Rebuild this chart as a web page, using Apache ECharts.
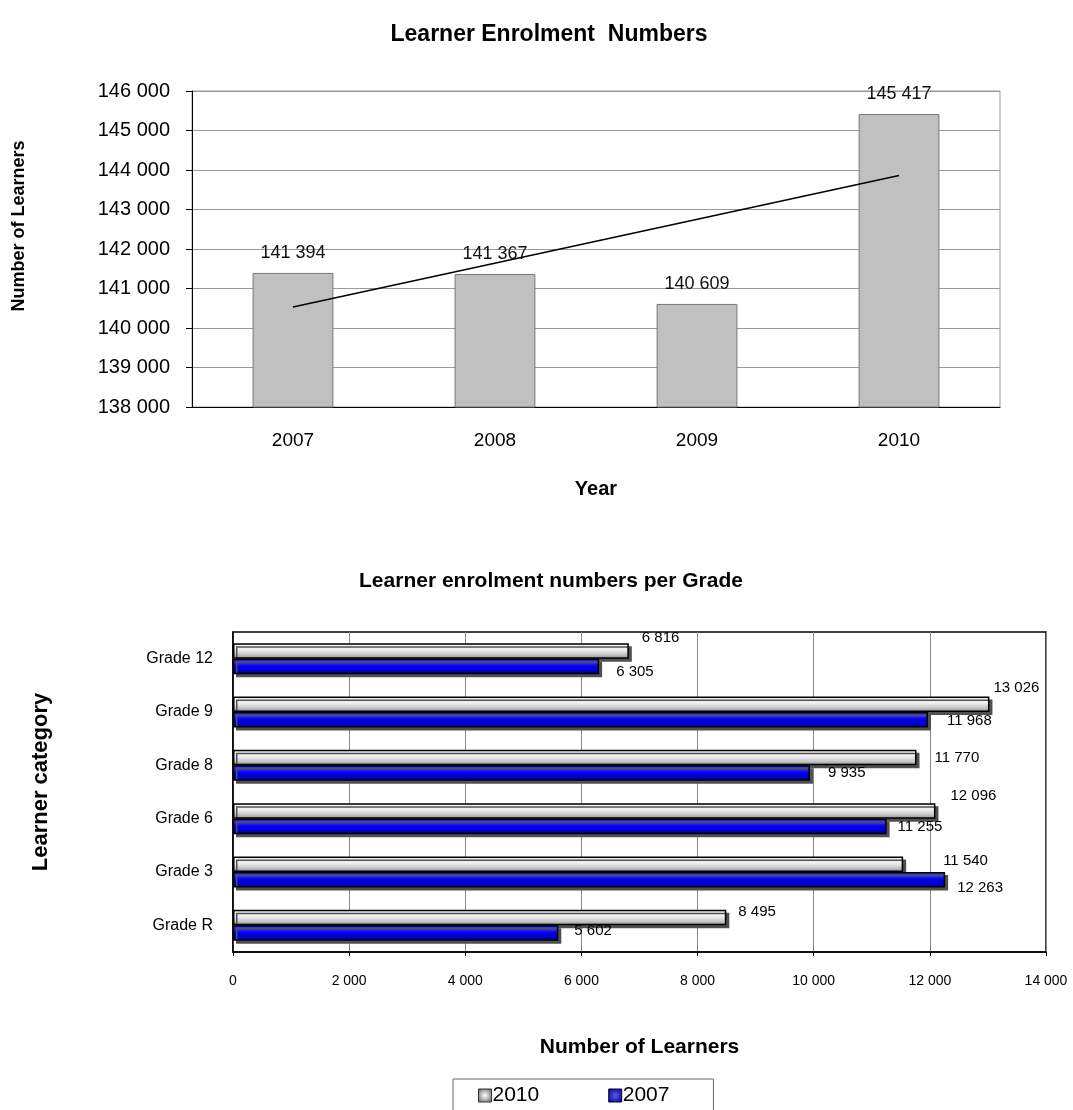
<!DOCTYPE html>
<html>
<head>
<meta charset="utf-8">
<script src="https://cdn.jsdelivr.net/npm/echarts@6/dist/echarts.min.js"></script>
<style>html,body{margin:0;padding:0;background:#fff;}#c{width:1073px;height:1110px;}</style>
</head>
<body>
<div id="c"></div>
<script>
// ---- Top chart data ----
const years = ['2007', '2008', '2009', '2010'];
const totalLearners = [141394, 141367, 140609, 145417];
const trendEnds = [140530, null, null, 143863]; // linear trendline endpoints
const topTicks = [138000, 146000, 1000]; // min, max, interval

// ---- Bottom chart data ----
const grades = ['Grade R', 'Grade 3', 'Grade 6', 'Grade 8', 'Grade 9', 'Grade 12'];
const grade2010 = [8495, 11540, 12096, 11770, 13026, 6816];
const grade2007 = [5602, 12263, 11255, 9935, 11968, 6305];
const bottomTicks = [0, 14000, 2000];

// label nudges (style only), per grade, matching the hand-placed labels of the original
const nudge2010 = [[12,-6],[40,-3],[15,-15],[18,0],[4,-16],[13,-13]];
const nudge2007 = [[16,-2],[12,8],[11,0],[18,0],[19,1],[17,5]];

const fmt = v => String(v).replace(/\B(?=(\d{3})+(?!\d))/g, ' ');
const FONT = 'Liberation Sans, Arial, sans-serif';

const grayGrad = {type:'linear', x:0, y:0, x2:0, y2:1, colorStops:[
  {offset:0, color:'#b8b8b8'}, {offset:0.15, color:'#f6f6f6'}, {offset:0.45, color:'#ececec'},
  {offset:0.75, color:'#c4c4c4'}, {offset:1, color:'#8a8a8a'}]};
const blueGrad = {type:'linear', x:0, y:0, x2:0, y2:1, colorStops:[
  {offset:0, color:'#1a1aa0'}, {offset:0.15, color:'#3a3aff'}, {offset:0.5, color:'#0000f0'},
  {offset:0.8, color:'#0000c8'}, {offset:1, color:'#000070'}]};

const labelBase = {show:true, position:'right', distance:0, formatter: p => fmt(p.value),
                   fontFamily:FONT, fontSize:15, color:'#000'};

const chart = echarts.init(document.getElementById('c'), null, {renderer:'canvas'});
chart.setOption({
  backgroundColor: '#fff',
  animation: false,
  title: [
    {text:'Learner Enrolment  Numbers', left: 544, top: 18, textAlign:'center',
     textStyle:{fontFamily:FONT, fontSize:23, fontWeight:'bold', color:'#000'}},
    {text:'Learner enrolment numbers per Grade', left: 546, top: 566, textAlign:'center',
     textStyle:{fontFamily:FONT, fontSize:21, fontWeight:'bold', color:'#000'}}
  ],
  graphic: [
    {type:'text', x:19, y:226, rotation:Math.PI/2,
     style:{text:'Number of Learners', fontFamily:FONT, fontSize:18, fontWeight:'bold', fill:'#000',
            align:'center', verticalAlign:'middle'}},
    {type:'text', x:41, y:782, rotation:Math.PI/2,
     style:{text:'Learner category', fontFamily:FONT, fontSize:22, fontWeight:'bold', fill:'#000',
            align:'center', verticalAlign:'middle'}}
  ],
  legend: {
    data: [
      {name:'2010', itemStyle:{color:{type:'radial', x:0.5, y:0.5, r:0.7, colorStops:[{offset:0,color:'#ffffff'},{offset:1,color:'#555'}]}, borderColor:'#333', borderWidth:1}},
      {name:'2007', itemStyle:{color:{type:'radial', x:0.5, y:0.5, r:0.7, colorStops:[{offset:0,color:'#5555ff'},{offset:1,color:'#000066'}]}, borderColor:'#000044', borderWidth:1}}
    ],
    left: 453, top: 1079,
    orient: 'horizontal',
    icon: 'rect', itemWidth: 13, itemHeight: 13, itemGap: 69,
    padding: [6, 44, 20, 25],
    borderColor: '#666', borderWidth: 1,
    textStyle: {fontFamily:FONT, fontSize:21, color:'#000', padding:[0,0,0,-4]}
  },
  grid: [
    {left:192, top:91, width:808, height:316, show:true, borderColor:'#999', borderWidth:1, containLabel:false},
    {left:233, top:632, width:813, height:320, show:true, borderColor:'#000', borderWidth:1.5, containLabel:false}
  ],
  xAxis: [
    {gridIndex:0, type:'category', data: years, boundaryGap:true,
     axisLine:{lineStyle:{color:'#000', width:1}}, axisTick:{show:false},
     axisLabel:{fontFamily:FONT, fontSize:19, color:'#000', margin:24},
     name:'Year', nameLocation:'middle', nameGap:72,
     nameTextStyle:{fontFamily:FONT, fontSize:20, fontWeight:'bold', color:'#000'}},
    {gridIndex:1, type:'value', min:bottomTicks[0], max:bottomTicks[1], interval:bottomTicks[2],
     axisLine:{show:true, lineStyle:{color:'#000', width:1.5}},
     axisTick:{show:true, length:4, lineStyle:{color:'#000'}},
     splitLine:{show:true, lineStyle:{color:'#888', width:1}},
     axisLabel:{fontFamily:FONT, fontSize:14, color:'#000', margin:22, formatter: fmt},
     name:'Number of Learners', nameLocation:'middle', nameGap:85,
     nameTextStyle:{fontFamily:FONT, fontSize:21, fontWeight:'bold', color:'#000'}}
  ],
  yAxis: [
    {gridIndex:0, type:'value', min:topTicks[0], max:topTicks[1], interval:topTicks[2],
     axisLine:{show:true, lineStyle:{color:'#000', width:1}},
     axisTick:{show:true, length:6, lineStyle:{color:'#000'}},
     splitLine:{show:true, lineStyle:{color:'#999', width:1}},
     axisLabel:{fontFamily:FONT, fontSize:20, color:'#000', margin:22, formatter: fmt}},
    {gridIndex:1, type:'category', data: grades, boundaryGap:true,
     axisLine:{lineStyle:{color:'#000', width:1.5}}, axisTick:{show:false},
     axisLabel:{fontFamily:FONT, fontSize:16, color:'#000', margin:20}}
  ],
  series: [
    {type:'bar', xAxisIndex:0, yAxisIndex:0, data: totalLearners, barWidth:'40%',
     itemStyle:{color:'#c0c0c0', borderColor:'#777', borderWidth:1},
     label:{show:true, position:'top', distance:11, formatter: p => fmt(p.value),
            fontFamily:FONT, fontSize:18, color:'#111'}},
    {type:'line', xAxisIndex:0, yAxisIndex:0, data: trendEnds, connectNulls:true,
     symbol:'none', lineStyle:{color:'#000', width:1.5}, z:5},
    {name:'2010', type:'bar', xAxisIndex:1, yAxisIndex:1,
     data: grade2010.map((v, i) => ({value: v, label: {offset: nudge2010[i]}})),
     barGap:'0%', barCategoryGap:'42%',
     itemStyle:{color: grayGrad, borderColor:'#000', borderWidth:1.5,
                shadowColor:'#505050', shadowOffsetX:3, shadowOffsetY:3, shadowBlur:0},
     label: labelBase},
    {name:'2007', type:'bar', xAxisIndex:1, yAxisIndex:1,
     data: grade2007.map((v, i) => ({value: v, label: {offset: nudge2007[i]}})),
     barGap:'0%', barCategoryGap:'42%',
     itemStyle:{color: blueGrad, borderColor:'#000', borderWidth:1.5,
                shadowColor:'#505050', shadowOffsetX:3, shadowOffsetY:3, shadowBlur:0},
     label: labelBase}
  ]
});
</script>
</body>
</html>
